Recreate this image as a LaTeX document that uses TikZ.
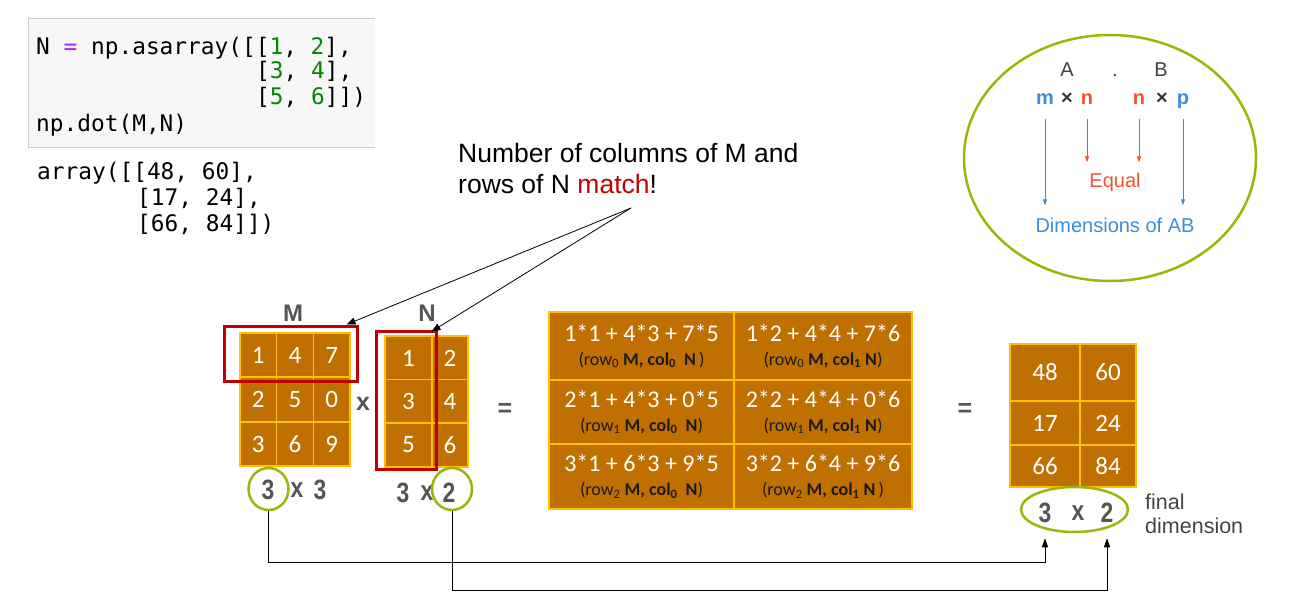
\documentclass[tikz,border=0pt]{standalone}
\usepackage{fontspec}
\setmainfont{Liberation Sans}
\newfontfamily\calfont{Carlito}
\newfontfamily\codefont{DejaVu Sans Mono}
\newfontfamily\narrowfont[FakeStretch=0.82]{Liberation Sans}
\usetikzlibrary{arrows.meta,positioning,calc,shapes.geometric}
\definecolor{cellfill}{HTML}{C07000}
\definecolor{cellline}{HTML}{FFC000}
\definecolor{markred}{HTML}{C00000}
\definecolor{ringgreen}{HTML}{9FB40A}
\definecolor{labelgray}{HTML}{555555}
\definecolor{codebg}{HTML}{F7F7F7}
\definecolor{codeline}{HTML}{CFCFCF}
\definecolor{pykw}{HTML}{AA22FF}
\definecolor{pynum}{HTML}{008800}
\definecolor{dimblue}{HTML}{3A8ED8}
\definecolor{eqred}{HTML}{F2542D}
\definecolor{subink}{HTML}{1A1A1A}
\newcommand{\pairlbl}[4]{{\fontsize{18}{20}\selectfont\color{subink}(row\textsubscript{#1} \textbf{M, col\textsubscript{#2}#3N}#4)}}

\begin{document}
\begin{tikzpicture}[
  x=1pt, y=-1pt,
  cell/.style={draw=cellline, line width=1.5pt, fill=cellfill, text=white, inner sep=0pt, font=\calfont\fontsize{25}{28}\selectfont},
  prodcell/.style={cell, align=center, font=\calfont\fontsize{24}{26}\selectfont},
  redbox/.style={draw=markred, line width=3pt, inner sep=0pt},
  ring/.style={draw=ringgreen, line width=2.5pt, ellipse, inner sep=0pt},
  codeln/.style={anchor=base west, inner sep=0pt, font=\codefont\fontsize{22.8}{26}\selectfont},
  dimlbl/.style={inner sep=0pt, text=labelgray, font=\narrowfont\bfseries\fontsize{28}{30}\selectfont},
  oplbl/.style={inner sep=0pt, text=labelgray, font=\bfseries\fontsize{25}{28}\selectfont},
  rulelbl/.style={anchor=base, inner sep=1pt, font=\fontsize{20}{24}\selectfont},
  callarr/.style={-{Triangle[length=9pt,width=7pt]}, line width=0.8pt},
  conn/.style={-{Triangle[length=9pt,width=6pt]}, line width=0.8pt},
  bluearr/.style={-{Triangle[length=6pt,width=4pt]}, line width=0.8pt, dimblue},
  redarr/.style={-{Triangle[length=6pt,width=4pt]}, line width=0.8pt, eqred}
]
  \useasboundingbox (0,0) rectangle (1310,599);

  % notebook cell
  \fill[codebg] (28,18) rectangle (375,147);
  \draw[codeline] (375,18) -- (28,18) -- (28,147) -- (375,147);
  \node[codeln] (code1) at (36,55) {N {\color{pykw}=} np.asarray([[{\color{pynum}1}, {\color{pynum}2}],};
  \node[codeln] (code2) at (256,79) {[{\color{pynum}3}, {\color{pynum}4}],};
  \node[codeln] (code3) at (256,105) {[{\color{pynum}5}, {\color{pynum}6}]])};
  \node[codeln] (code4) at (36,132) {np.dot(M,N)};
  \node[codeln] (out1) at (37,180) {array([[48, 60],};
  \node[codeln] (out2) at (137,206) {[17, 24],};
  \node[codeln] (out3) at (137,231) {[66, 84]])};

  % matrix M
  \foreach \x/\y/\v [count=\k] in {258.3/355/1, 295/355/4, 331.7/355/7,
      258.3/399.5/2, 295/399.5/5, 331.7/399.5/0,
      258.3/444/3, 295/444/6, 331.7/444/9}
    \node[cell, minimum width=36.7, minimum height=44.3] (m\k) at (\x,\y) {\v};
  % matrix N
  \foreach \x/\y/\w/\v [count=\k] in {408.5/358/47/1, 450/358/36/2,
      408.5/401.5/47/3, 450/401.5/36/4,
      408.5/445/47/5, 450/445/36/6}
    \node[cell, minimum width=\w, minimum height=43.7] (n\k) at (\x,\y) {\v};

  \node[redbox, minimum width=133, minimum height=55] (mrow) at (290.5,353.5) {};
  \node[redbox, minimum width=60, minimum height=138] (ncol) at (406,400) {};

  \node[oplbl, font=\bfseries\fontsize{24}{28}\selectfont] (mlbl) at (293,313) {M};
  \node[oplbl, font=\bfseries\fontsize{24}{28}\selectfont] (nlbl) at (427,313) {N};
  \node[oplbl] (times) at (363,404) {x};
  \node[oplbl] (eq1) at (505,410) {=};
  \node[oplbl] (eq2) at (965,410) {=};

  % products
  \node[prodcell, minimum width=185, minimum height=68] (p11) at (641.5,346) {1*1 + 4*3 + 7*5\\[-2pt]\pairlbl{0}{0}{\ \ }{\,}};
  \node[prodcell, minimum width=178, minimum height=68] (p12) at (823,346) {1*2 + 4*4 + 7*6\\[-2pt]\pairlbl{0}{1}{ }{}};
  \node[prodcell, minimum width=185, minimum height=64] (p21) at (641.5,412) {2*1 + 4*3 + 0*5\\[-2pt]\pairlbl{1}{0}{\ \ }{}};
  \node[prodcell, minimum width=178, minimum height=64] (p22) at (823,412) {2*2 + 4*4 + 0*6\\[-2pt]\pairlbl{1}{1}{ }{}};
  \node[prodcell, minimum width=185, minimum height=65] (p31) at (641.5,476.5) {3*1 + 6*3 + 9*5\\[-2pt]\pairlbl{2}{0}{\ \ }{}};
  \node[prodcell, minimum width=178, minimum height=65] (p32) at (823,476.5) {3*2 + 6*4 + 9*6\\[-2pt]\pairlbl{2}{1}{ }{\,}};

  % result
  \foreach \x/\y/\w/\h/\v [count=\k] in {1045/372.5/70/57/48, 1108/372.5/56/57/60,
      1045/423/70/44/17, 1108/423/56/44/24,
      1045/466/70/42/66, 1108/466/56/42/84}
    \node[cell, minimum width=\w, minimum height=\h] (r\k) at (\x,\y) {\v};

  % dimensions
  \node[dimlbl] (mrows) at (268,490) {3};
  \node[dimlbl] (mx) at (297,490) {x};
  \node[dimlbl] (mcols) at (320,490) {3};
  \node[ring, minimum width=40, minimum height=42] (mring) at (268.5,489) {};
  \node[dimlbl] (nrows) at (403,493) {3};
  \node[dimlbl] (nx) at (427,493) {x};
  \node[dimlbl] (ncols) at (449,493) {2};
  \node[ring, minimum width=40, minimum height=42] (nring) at (452,489) {};
  \node[dimlbl] (frows) at (1045,513) {3};
  \node[dimlbl] (fx) at (1078,513) {x};
  \node[dimlbl] (fcols) at (1107,513) {2};
  \node[ring, minimum width=107, minimum height=45] (fring) at (1074.5,509.5) {};
  \node[anchor=north west, inner sep=0pt, align=left, text=labelgray!80!black, font=\fontsize{21.5}{24}\selectfont] (findim) at (1145,494) {final\\dimension};

  \coordinate (lane1) at (0,562);
  \coordinate (lane2) at (0,590);
  \draw[conn] (mring.south) |- (lane1 -| frows) -- ($(frows |- fring.south)+(0,5)$);
  \draw[conn] (nring.south) |- (lane2 -| fcols) -- ($(fcols |- fring.south)+(0,5)$);

  % callout
  \node[anchor=north west, inner sep=0pt, align=left, font=\fontsize{26.5}{31}\selectfont] (callout) at (458,143) {Number of columns of M and\\rows of N {\color{markred}match}!};
  \coordinate (callpt) at (631,208);
  \draw[callarr] (callpt) -- ($(mrow.north east)+(-12,0)$);
  \draw[callarr] (callpt) -- ($(ncol.north east)+(-6,2)$);

  % rule A.B
  \node[ring, minimum width=292, minimum height=246] (rulering) at (1110,158) {};
  \node[rulelbl, text=black!75] (ra) at (1067,77) {A};
  \node[rulelbl, text=black!75] (rdot) at (1115,77) {.};
  \node[rulelbl, text=black!75] (rb) at (1161,77) {B};
  \node[rulelbl, text=dimblue, font=\bfseries\fontsize{20}{24}\selectfont] (am) at (1045,105) {m};
  \node[rulelbl, text=black!80, font=\bfseries\fontsize{20}{24}\selectfont] (ax) at (1067,105) {×};
  \node[rulelbl, text=eqred, font=\bfseries\fontsize{20}{24}\selectfont] (an) at (1087,105) {n};
  \node[rulelbl, text=eqred, font=\bfseries\fontsize{20}{24}\selectfont] (bn) at (1139,105) {n};
  \node[rulelbl, text=black!80, font=\bfseries\fontsize{20}{24}\selectfont] (bx) at (1162,105) {×};
  \node[rulelbl, text=dimblue, font=\bfseries\fontsize{20}{24}\selectfont] (bp) at (1183,105) {p};
  \node[rulelbl, text=eqred] (equal) at (1115,187) {Equal};
  \node[rulelbl, text=dimblue] (dimab) at (1115,232) {Dimensions of AB};
  \draw[bluearr] (1045,119) -- ($(am |- dimab.north)+(0,-11)$);
  \draw[bluearr] (1183,119) -- ($(bp |- dimab.north)+(0,-11)$);
  \draw[redarr] (1087,119) -- ($(an |- equal.north)+(0,-9)$);
  \draw[redarr] (1139,119) -- ($(bn |- equal.north)+(0,-9)$);
\end{tikzpicture}
\end{document}
